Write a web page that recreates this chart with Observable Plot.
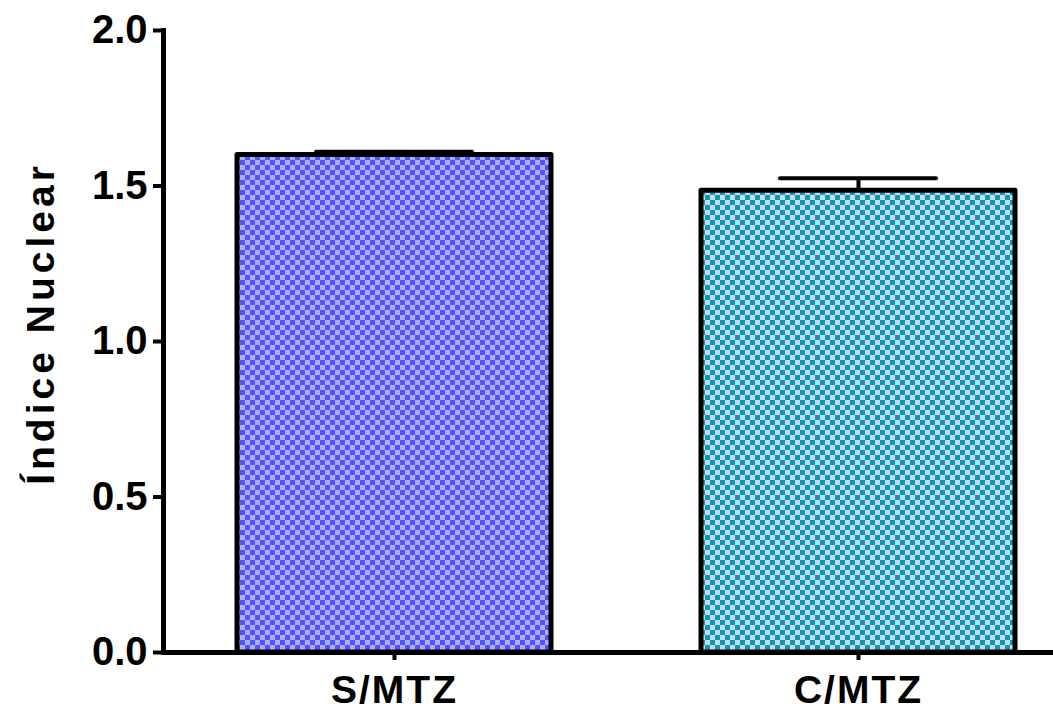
<!DOCTYPE html>
<html>
<head>
<meta charset="utf-8">
<script src="https://cdn.jsdelivr.net/npm/d3@7"></script>
<script src="https://cdn.jsdelivr.net/npm/@observablehq/plot@0.6"></script>
<style>
  html, body { margin: 0; padding: 0; background: #fff; }
  svg { display: block; }
</style>
</head>
<body>
<div id="chart"></div>
<script>
const categories = ["S/MTZ", "C/MTZ"];
const means = [1.60, 1.485];
const sems = [0.01, 0.04];
const yTicks = [0, 0.5, 1.0, 1.5, 2.0];
const yLabel = "Índice Nuclear";

const data = categories.map((c, i) => ({cat: c, mean: means[i], top: means[i] + sems[i]}));

const font = "'Liberation Sans', Arial, sans-serif";

const chart = Plot.plot({
  width: 1053,
  height: 710,
  marginLeft: 163,
  marginRight: 0,
  marginTop: 30,
  marginBottom: 58,
  style: {fontFamily: font, fontWeight: "bold", background: "white", color: "black", overflow: "visible"},
  x: {domain: categories, range: [163, 1090], paddingInner: 0.323, paddingOuter: 0.16, axis: null},
  y: {domain: [0, 2], axis: null},
  color: {domain: categories, range: ["url(#patS)", "url(#patC)"]},
  marks: [
    Plot.ruleX(data, {x: "cat", y1: "mean", y2: "top", stroke: "black", strokeWidth: 4}),
    Plot.barY(data, {x: "cat", y: "mean", fill: "cat", stroke: "black", strokeWidth: 5, strokeLinejoin: "round"}),
    Plot.tickY(data, {x: "cat", y: "top", stroke: "black", strokeWidth: 4, strokeLinecap: "round", insetLeft: 79, insetRight: 79}),
    Plot.axisY({ticks: yTicks, tickFormat: d3.format(".1f"), tickSize: 10, tickPadding: 6, strokeWidth: 4, fontSize: 40, fontWeight: "bold", label: null}),
    Plot.axisX({tickSize: 8, tickPadding: 15, strokeWidth: 4, fontSize: 39, fontWeight: "bold", label: null}),
    Plot.ruleY([0], {stroke: "black", strokeWidth: 5}),
    Plot.frame({anchor: "left", stroke: "black", strokeWidth: 5}),
    Plot.text([yLabel], {frameAnchor: "left", textAnchor: "middle", rotate: -90, dx: -122, dy: -18, fontSize: 39, fontWeight: "bold", fill: "black"})
  ]
});

const svg = d3.select(chart);
// letter spacing like the original rendering
svg.selectAll("text").filter(function() { return this.textContent === yLabel; }).attr("letter-spacing", 4);
svg.selectAll("text").filter(function() { return categories.includes(this.textContent); }).attr("letter-spacing", 2);

// checkerboard patterns for bar fills
const defs = svg.insert("defs", ":first-child");
function checker(id, light, dark) {
  const p = defs.append("pattern").attr("id", id).attr("patternUnits", "userSpaceOnUse")
    .attr("width", 10).attr("height", 10);
  p.append("rect").attr("width", 10).attr("height", 10).attr("fill", light);
  p.append("rect").attr("width", 5).attr("height", 5).attr("fill", dark);
  p.append("rect").attr("x", 5).attr("y", 5).attr("width", 5).attr("height", 5).attr("fill", dark);
}
checker("patS", "#ADADFF", "#5252FF");
checker("patC", "#C0DCFA", "#1198AD");

document.getElementById("chart").appendChild(chart);
</script>
</body>
</html>
